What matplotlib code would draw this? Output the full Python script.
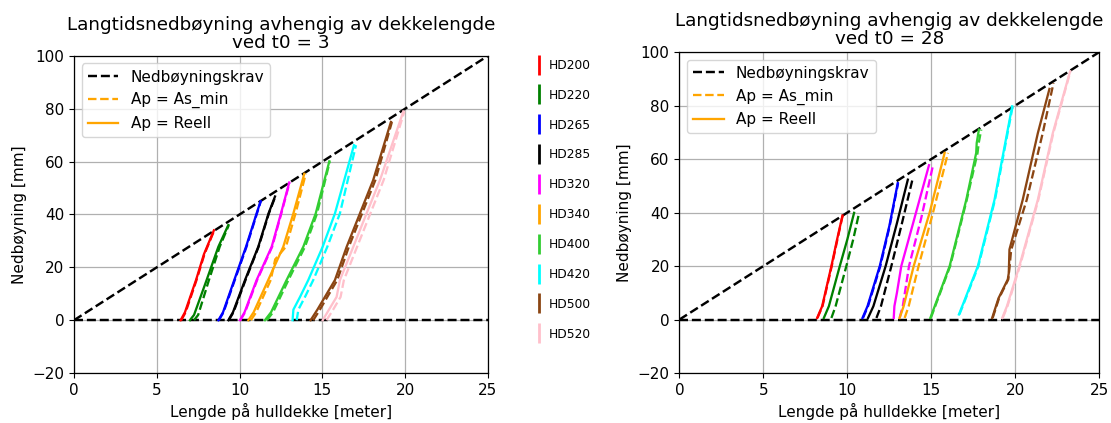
"""
Langtidsnedbøyning for hulldekker ved t0 = 3 og t0 = 28.
"""
import matplotlib
matplotlib.use("Agg")
import matplotlib.pyplot as plt
from matplotlib.lines import Line2D

HD = ["HD200", "HD220", "HD265", "HD285", "HD320",
      "HD340", "HD400", "HD420", "HD500", "HD520"]
farger = ["red", "green", "blue", "black", "magenta",
          "orange", "limegreen", "cyan", "saddlebrown", "pink"]

krav_x = [0, 25]
krav_y = [0, 100]
null_x = [0, 25]
null_y = [0, 0]

# t0 = 3, Ap = Reell  (x i meter, y i mm)
t3_reell = {
    "HD200": ([6.44, 6.7, 7.37, 7.85, 8.45], [0, 3, 15.2, 25, 34]),
    "HD220": ([7.0, 7.25, 8.01, 8.72, 9.32], [0, 2, 15.2, 27.8, 36]),
    "HD265": ([8.72, 9.0, 9.68, 10.39, 11.03, 11.27], [0, 3, 15.2, 27.8, 40.4, 45]),
    "HD285": ([9.32, 9.6, 10.33, 11.13, 11.75, 12.14], [0, 3, 15.2, 27.8, 40.4, 46.8]),
    "HD320": ([10.02, 10.3, 11.03, 11.94, 12.5, 13.0], [0, 3, 15.2, 27.8, 40.4, 52.1]),
    "HD340": ([10.53, 10.85, 11.73, 12.64, 13.25, 13.91], [0, 3, 15.2, 27.8, 40.4, 55.4]),
    "HD400": ([11.53, 11.9, 12.84, 13.85, 14.6, 15.42], [0, 3, 15.2, 27.8, 40.4, 60.1]),
    "HD420": ([13.2, 13.25, 13.65, 14.15, 15.02, 15.76, 16.91], [0, 4, 8.8, 15.2, 27.8, 40.4, 66.2]),
    "HD500": ([14.29, 14.7, 15.76, 16.47, 17.27, 18.07, 19.14], [0, 4, 15.2, 27.8, 40.4, 53, 75]),
    "HD520": ([15.02, 15.4, 15.86, 16.06, 16.87, 17.67, 18.48, 19.89], [0, 4, 8.8, 15.2, 27.8, 40.4, 53, 79]),
}

# t0 = 3, Ap = As_min
t3_asmin = {
    "HD200": ([6.48, 6.74, 7.4, 7.88, 8.47], [0, 3, 15.2, 25, 34]),
    "HD220": ([7.25, 7.5, 8.15, 8.8, 9.35], [0, 2, 15.2, 27.8, 36]),
    "HD265": ([8.75, 9.03, 9.71, 10.42, 11.05, 11.29], [0, 3, 15.2, 27.8, 40.4, 45.2]),
    "HD285": ([9.35, 9.63, 10.36, 11.15, 11.77, 12.16], [0, 3, 15.2, 27.8, 40.4, 46.8]),
    "HD320": ([10.05, 10.33, 11.06, 11.97, 12.52, 13.02], [0, 3, 15.2, 27.8, 40.4, 52.1]),
    "HD340": ([10.68, 11.0, 11.88, 12.15, 12.8, 13.38, 14.0], [0, 3, 15.2, 23, 27.8, 40.4, 55.4]),
    "HD400": ([11.65, 12.02, 12.95, 13.95, 14.68, 15.45], [0, 3, 15.2, 27.8, 40.4, 60.1]),
    "HD420": ([13.45, 13.55, 13.95, 14.45, 15.3, 16.06, 17.03], [0, 4, 8.8, 15.2, 27.8, 40.4, 66.2]),
    "HD500": ([14.45, 14.85, 15.9, 16.6, 17.4, 18.2, 19.2], [0, 4, 15.2, 27.8, 40.4, 53, 75]),
    "HD520": ([15.25, 15.65, 16.1, 16.3, 17.1, 17.9, 18.7, 19.95], [0, 4, 8.8, 15.2, 27.8, 40.4, 53, 79]),
}

# t0 = 28, Ap = Reell
t28_reell = {
    "HD200": ([8.2, 8.5, 9.05, 9.39, 9.71], [0.6, 5, 20, 30, 38.9]),
    "HD220": ([8.6, 8.9, 9.55, 10.0, 10.4], [0.6, 5, 20, 30, 39.9]),
    "HD265": ([10.9, 11.2, 11.93, 12.5, 13.0], [0.6, 5, 20, 35, 51]),
    "HD285": ([11.23, 11.55, 12.28, 12.95, 13.6], [0.6, 5, 20, 36, 52.3]),
    "HD320": ([12.76, 12.8, 12.95, 13.21, 14.0, 14.86], [0.6, 5, 10, 20, 38, 57.7]),
    "HD340": ([13.11, 13.35, 13.95, 14.9, 15.79], [0.6, 5, 20, 40, 62.3]),
    "HD400": ([14.94, 15.2, 16.09, 17.08, 17.67, 17.7, 17.83], [0.6, 5, 20, 44.8, 62.3, 66, 71]),
    "HD420": ([16.64, 16.9, 17.77, 18.76, 19.81], [1.9, 6, 20, 44.8, 79.7]),
    "HD500": ([18.62, 19.0, 19.55, 19.61, 19.65, 20.44, 21.34, 22.03], [0.6, 8, 15, 17.4, 26.2, 44.8, 69.7, 86.2]),
    "HD520": ([19.22, 19.5, 20.24, 21.34, 22.23, 23.26], [0.6, 5, 20, 44.8, 69.7, 92.8]),
}

# t0 = 28, Ap = As_min
t28_asmin = {
    "HD200": ([8.22, 8.52, 9.07, 9.41, 9.72], [0.6, 5, 20, 30, 38.9]),
    "HD220": ([9.05, 9.3, 9.94, 10.35, 10.7], [0.6, 5, 20, 30, 39.9]),
    "HD265": ([10.93, 11.23, 11.96, 12.52, 13.02], [0.6, 5, 20, 35, 51]),
    "HD285": ([11.73, 12.0, 12.62, 13.25, 13.9], [0.6, 5, 20, 36, 53]),
    "HD320": ([13.11, 13.3, 13.67, 14.4, 15.1], [0.6, 5, 20, 38, 57.7]),
    "HD340": ([13.41, 13.65, 14.24, 15.1, 15.99], [0.6, 5, 20, 40, 62.3]),
    "HD400": ([14.97, 15.23, 16.12, 17.11, 17.75, 17.82, 17.97], [0.6, 5, 20, 44.8, 62.3, 66, 71]),
    "HD420": ([16.67, 16.93, 17.8, 18.79, 19.84], [1.9, 6, 20, 44.8, 79.7]),
    "HD500": ([18.65, 19.03, 19.58, 19.65, 19.75, 20.68, 21.63, 22.27], [0.6, 8, 15, 19.3, 26, 44.8, 69.7, 88.4]),
    "HD520": ([19.25, 19.53, 20.27, 21.37, 22.26, 23.28], [0.6, 5, 20, 44.8, 69.7, 92.8]),
}

plt.rcParams["font.family"] = "DejaVu Sans"
plt.rcParams["font.size"] = 11

fig = plt.figure(figsize=(11.11, 4.23), dpi=100)
ax1 = fig.add_axes([0.0666, 0.118, 0.3726, 0.750])
ax2 = fig.add_axes([0.6115, 0.118, 0.3780, 0.759])


def tegn(ax, reell, asmin, t0):
    ax.plot(krav_x, krav_y, "k--", lw=1.75, label="Nedbøyningskrav")
    ax.plot(null_x, null_y, "k--", lw=1.75)
    for navn, farge in zip(HD, farger):
        ax.plot(*asmin[navn], color=farge, ls="--", lw=1.65)
        ax.plot(*reell[navn], color=farge, lw=1.65)
    ax.set_xlim(0, 25)
    ax.set_ylim(-20, 100)
    ax.grid(True, lw=0.9)
    for s in ax.spines.values():
        s.set_linewidth(0.9)
    ax.set_title("Langtidsnedbøyning avhengig av dekkelengde\nved t0 = %d" % t0,
                 fontsize=13.2, linespacing=1.0, pad=6)
    ax.set_xlabel("Lengde på hulldekke [meter]")
    ax.set_ylabel("Nedbøyning [mm]")
    handles = [
        Line2D([0], [0], color="black", ls="--", lw=1.75),
        Line2D([0], [0], color="orange", ls="--", lw=1.65),
        Line2D([0], [0], color="orange", lw=1.65),
    ]
    ax.legend(handles, ["Nedbøyningskrav", "Ap = As_min", "Ap = Reell"],
              loc="upper left", fontsize=11)


tegn(ax1, t3_reell, t3_asmin, 3)
tegn(ax2, t28_reell, t28_asmin, 28)

# felles fargeforklaring for dekketypene
hd_handles = [Line2D([0], [0], color=c, marker="|", ls="None",
                     markersize=14, markeredgewidth=2) for c in farger]
fig.legend(hd_handles, HD, loc="upper left", bbox_to_anchor=(0.471, 0.887),
           frameon=False, fontsize=8.8, labelspacing=1.38, handlelength=0.8,
           handletextpad=0.4)

fig.savefig("out.png", dpi=100)
